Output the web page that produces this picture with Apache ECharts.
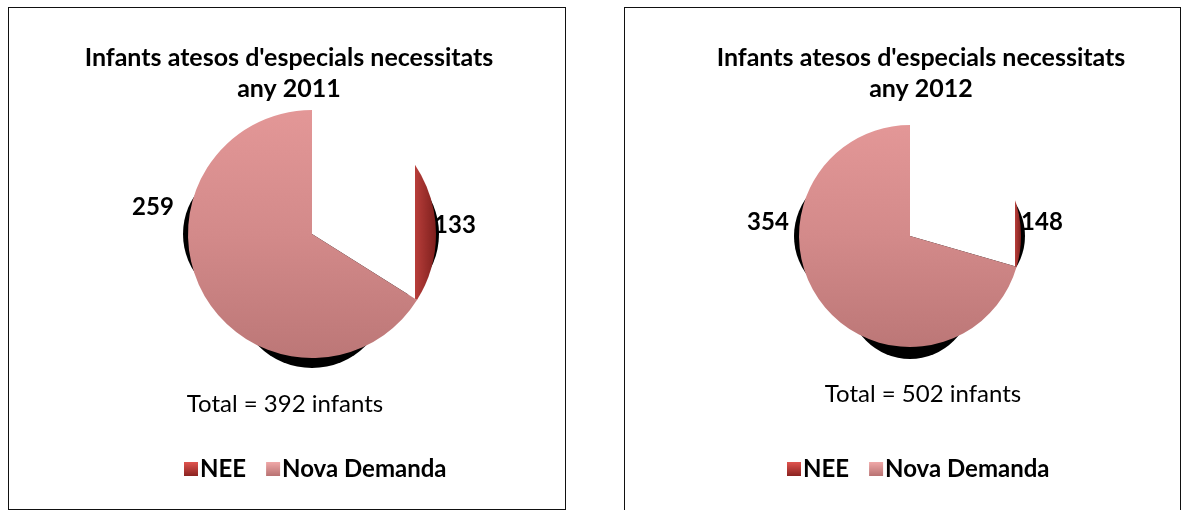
<!DOCTYPE html>
<html>
<head>
<meta charset="utf-8">
<script src="https://cdn.jsdelivr.net/npm/echarts@6/dist/echarts.min.js"></script>
<style>
    body { margin: 0; background: #fff; }
    .panel { position: absolute; border: 1px solid #111; box-sizing: border-box; }
</style>
</head>
<body>
<div id="chart2011" class="panel" style="left:8px;top:7px;width:558px;height:503px"></div>
<div id="chart2012" class="panel" style="left:624px;top:7px;width:557px;height:510px"></div>
<script>
// dades
const categories = ['NEE', 'Nova Demanda']
const years = ['2011', '2012']
const neeValues = [133, 148]
const novaDemandaValues = [259, 354]

const FONT = 'Lato'

// posicions de cada panell (px dins del contenidor)
const panels = [
    {
        id: 'chart2011',
        center: [303, 226],
        radius: 124,
        cut: 0.83,
        titleX: 280,
        totalX: 276,
        totalY: 396,
        legendLeft: 175,
        labelOffsets: [[143, -9], [-159, -27]],
        shadows: [[0, 58, 76], [-60, 0, 69], [52, 0, 75]],
    },
    {
        id: 'chart2012',
        center: [285, 228],
        radius: 111,
        cut: 0.946,
        titleX: 296,
        totalX: 298,
        totalY: 386,
        legendLeft: 162,
        labelOffsets: [[132, -14], [-142, -14]],
        shadows: [[0, 61, 62], [-51, 0, 65], [55, 0, 60]],
    },
]

function drawPie(p, i) {
    const chart = echarts.init(document.getElementById(p.id))
    const total = neeValues[i] + novaDemandaValues[i]

    // ombres negres del 3D
    const shadowSeries = p.shadows.map(function (s) {
        return {
            type: 'pie',
            silent: true,
            center: [p.center[0] + s[0], p.center[1] + s[1]],
            radius: s[2],
            label: { show: false },
            labelLine: { show: false },
            itemStyle: { color: '#000', borderWidth: 0 },
            emphasis: { disabled: true },
            data: [{ value: 1, name: 'ombra' }],
        }
    })

    chart.setOption({
        animation: false,
        title: [
            {
                text: "Infants atesos d'especials necessitats\nany " + years[i],
                left: p.titleX,
                top: 34,
                padding: 0,
                textAlign: 'center',
                textStyle: { fontFamily: FONT, fontSize: 25, fontWeight: 'bold', color: '#000', lineHeight: 31 },
            },
            {
                text: 'Total = ' + total + ' infants',
                left: p.totalX,
                top: p.totalY - 14,
                padding: 0,
                textAlign: 'center',
                textStyle: { fontFamily: FONT, fontSize: 24, fontWeight: 'normal', color: '#000', lineHeight: 28 },
            },
        ],
        legend: {
            left: p.legendLeft,
            top: 449,
            padding: 0,
            icon: 'rect',
            itemWidth: 14,
            itemHeight: 14,
            itemGap: 20,
            selectedMode: false,
            textStyle: { fontFamily: FONT, fontSize: 24, fontWeight: 'bold', color: '#000', padding: [0, 0, 0, -3] },
            data: [
                {
                    name: categories[0],
                    itemStyle: { color: new echarts.graphic.LinearGradient(0, 0, 0, 1, [{ offset: 0, color: '#e0544f' }, { offset: 1, color: '#8a2220' }]) },
                },
                {
                    name: categories[1],
                    itemStyle: { color: new echarts.graphic.LinearGradient(0, 0, 0, 1, [{ offset: 0, color: '#f0a8a8' }, { offset: 1, color: '#b87272' }]) },
                },
            ],
        },
        series: shadowSeries.concat([{
            type: 'pie',
            silent: true,
            center: p.center,
            radius: p.radius,
            startAngle: 90,
            clockwise: true,
            avoidLabelOverlap: false,
            label: {
                show: true,
                position: 'outside',
                formatter: '{c}',
                fontFamily: FONT,
                fontSize: 24,
                fontWeight: 'bold',
                color: '#000',
            },
            labelLine: { show: false },
            labelLayout: function (params) {
                const o = p.labelOffsets[params.dataIndex]
                return {
                    x: p.center[0] + o[0],
                    y: p.center[1] + o[1],
                    align: 'center',
                    verticalAlign: 'middle',
                }
            },
            emphasis: { disabled: true },
            data: [
                {
                    name: categories[0],
                    value: neeValues[i],
                    itemStyle: {
                        borderWidth: 0,
                        color: new echarts.graphic.LinearGradient(0, 0, 1, 0, [
                            { offset: 0, color: '#ffffff' },
                            { offset: p.cut, color: '#ffffff' },
                            { offset: p.cut, color: '#b83e3a' },
                            { offset: 1, color: '#7e1f1d' },
                        ]),
                    },
                },
                {
                    name: categories[1],
                    value: novaDemandaValues[i],
                    itemStyle: {
                        borderWidth: 0,
                        color: new echarts.graphic.LinearGradient(0, 0, 0, 1, [
                            { offset: 0, color: '#e39797' },
                            { offset: 0.5, color: '#d38a8a' },
                            { offset: 1, color: '#bc7777' },
                        ]),
                    },
                },
            ],
        }]),
    })
}

panels.forEach(drawPie)
</script>
</body>
</html>
